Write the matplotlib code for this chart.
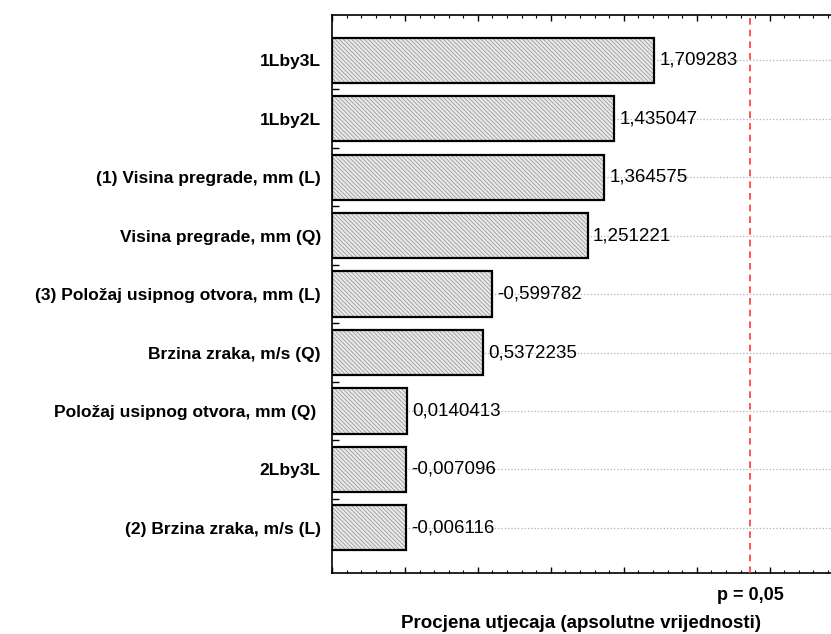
import matplotlib.pyplot as plt
import matplotlib.transforms as mtransforms
from matplotlib.ticker import MultipleLocator

# Pareto chart of effects (absolute values), p = 0.05 line
factors = [
    "1Lby3L",
    "1Lby2L",
    "(1) Visina pregrade, mm (L)",
    "Visina pregrade, mm (Q)",
    "(3) Položaj usipnog otvora, mm (L)",
    "Brzina zraka, m/s (Q)",
    "Položaj usipnog otvora, mm (Q) ",
    "2Lby3L",
    "(2) Brzina zraka, m/s (L)",
]
effects = [1.709283, 1.435047, 1.364575, 1.251221, -0.599782,
           0.5372235, 0.0140413, -0.007096, -0.006116]
effect_labels = ["1,709283", "1,435047", "1,364575", "1,251221", "-0,599782",
                 "0,5372235", "0,0140413", "-0,007096", "-0,006116"]
t_crit = 2.364624
crit_label = "p = 0,05"

plt.rcParams.update({
    "font.family": ["Liberation Sans", "DejaVu Sans"],
    "hatch.linewidth": 0.6,
})

fig = plt.figure(figsize=(8.31, 6.34), dpi=100)
ax = fig.add_axes([0.3995, 0.0962, 0.6005, 0.8801])

x0 = -0.5
ypos = list(range(len(factors)))
widths = [abs(v) - x0 for v in effects]

ax.grid(axis="y", linestyle=":", color="#b0b0b0", linewidth=0.9, zorder=0)
# hatched fill (gray hatch lines), then black outline on top
ax.barh(ypos, widths, left=x0, height=0.77, facecolor="#eaeaea",
        edgecolor="#9c9c9c", linewidth=0, hatch="\\\\\\\\\\\\\\\\", zorder=2)
ax.barh(ypos, widths, left=x0, height=0.77, facecolor="none",
        edgecolor="black", linewidth=1.6, zorder=3)

for y, v, lab in zip(ypos, effects, effect_labels):
    ax.text(abs(v) + 0.035, y, lab, ha="left", va="center", fontsize=13.5,
            zorder=3)

ax.axvline(t_crit, color="#ff3b3b", linestyle=(0, (4, 3)), linewidth=1.2,
           zorder=4)

ax.set_xlim(x0, 2.92)
ax.set_ylim(8.77, -0.77)
ax.set_yticks(ypos)
ax.set_yticklabels(factors, fontsize=12.5, fontweight="bold")
ax.set_yticks([i + 0.5 for i in range(len(factors) - 1)], minor=True)

ax.xaxis.set_major_locator(MultipleLocator(0.5))
ax.xaxis.set_minor_locator(MultipleLocator(0.1))
ax.set_xticklabels([])
ax.tick_params(axis="x", which="major", direction="in", length=4,
               top=True, bottom=True, width=1)
ax.tick_params(axis="x", which="minor", direction="in", length=2,
               top=True, bottom=True, width=0.8)
ax.tick_params(axis="y", which="major", direction="in", length=4,
               pad=8, width=1)
ax.tick_params(axis="y", which="minor", direction="in", length=5, width=1)

ax.spines["right"].set_visible(False)
for s in ["left", "top", "bottom"]:
    ax.spines[s].set_linewidth(1.2)

trans = mtransforms.blended_transform_factory(ax.transData, ax.transAxes)
ax.text(t_crit, -0.025, crit_label, transform=trans, ha="center", va="top",
        fontsize=13, fontweight="bold")

ax.set_xlabel("Procjena utjecaja (apsolutne vrijednosti)", fontsize=13.5,
              fontweight="bold", labelpad=27)

fig.savefig("out.png", dpi=100)
